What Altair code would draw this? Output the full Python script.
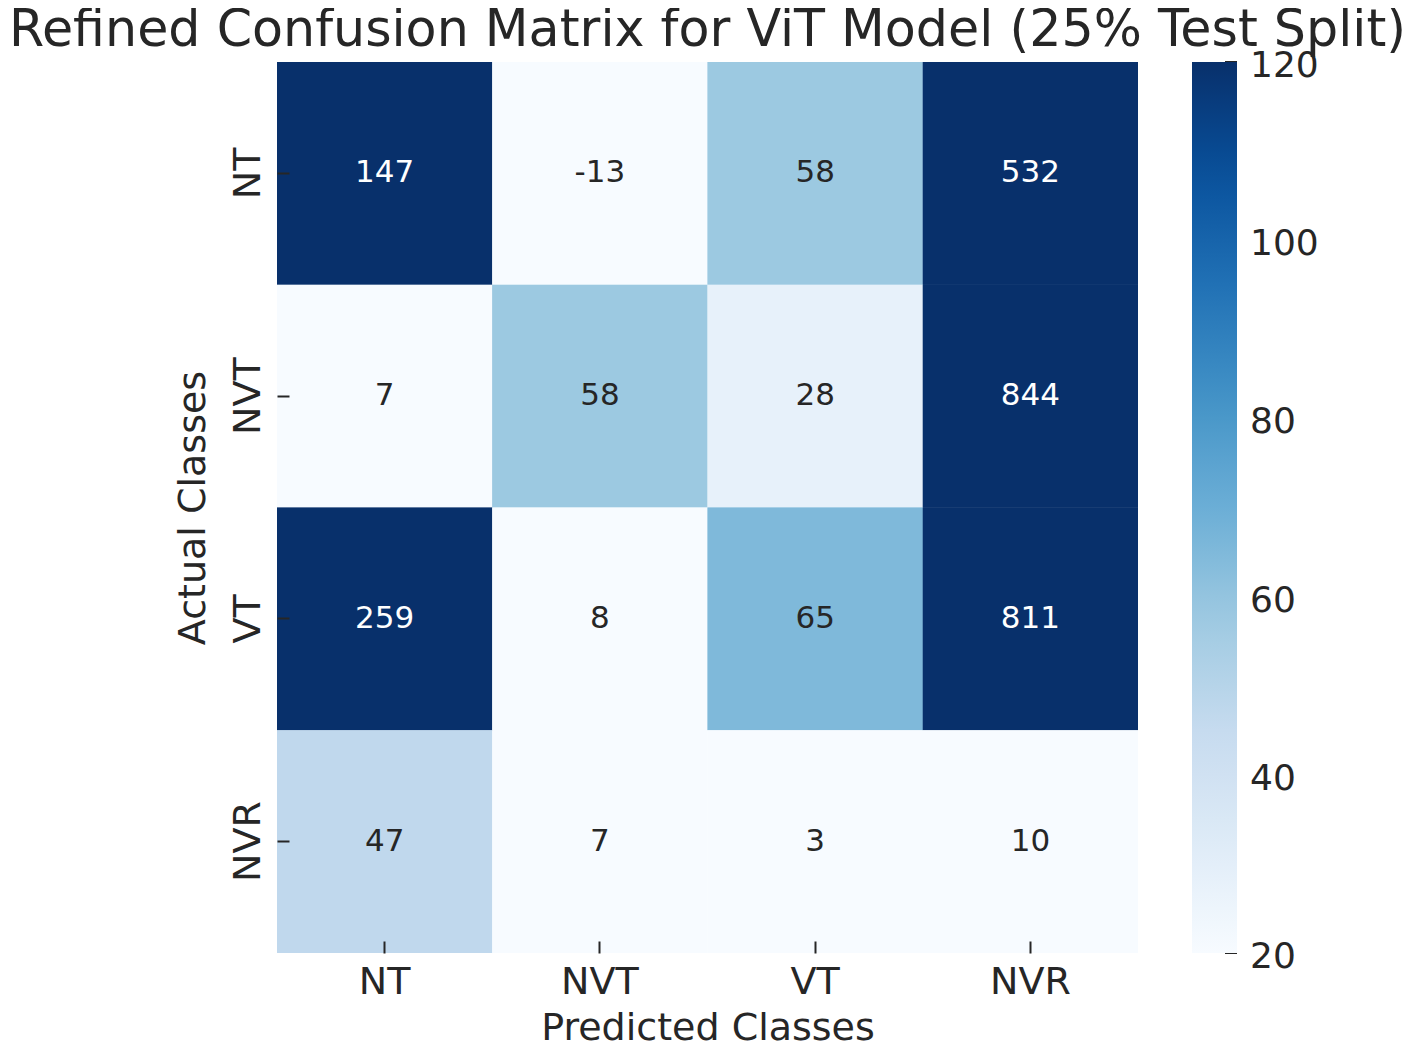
import altair as alt
import pandas as pd

classes = ["NT", "NVT", "VT", "NVR"]
values = [
    [147, -13, 58, 532],
    [7, 58, 28, 844],
    [259, 8, 65, 811],
    [47, 7, 3, 10],
]
cbar_ticks = [20, 40, 60, 80, 100, 120]
blues = ["#f7fbff", "#deebf7", "#c6dbef", "#9ecae1", "#6baed6",
         "#4292c6", "#2171b5", "#08519c", "#08306b"]
vmin, vmax = 20, 120
stops = [vmin + (vmax - vmin) * i / (len(blues) - 1) for i in range(len(blues))]

rows = []
for i, a in enumerate(classes):
    for j, p in enumerate(classes):
        rows.append({"actual": a, "predicted": p, "value": values[i][j],
                     "label": str(values[i][j])})
df = pd.DataFrame(rows)
ticks_df = pd.DataFrame({"t": cbar_ticks, "tl": [str(t) for t in cbar_ticks]})

FONT = "DejaVu Sans"
TXT = "#262626"
W, H = 861, 891

cscale = alt.Scale(domain=stops, range=blues, clamp=True, interpolate="rgb")

xenc = alt.X("predicted:N", sort=classes, title="Predicted Classes",
             scale=alt.Scale(paddingInner=0, paddingOuter=0),
             axis=alt.Axis(labelAngle=0, labelFontSize=38, titleFontSize=38,
                           titleFontWeight="normal", tickSize=12, tickWidth=2,
                           tickColor=TXT, labelColor=TXT, titleColor=TXT,
                           domain=False, offset=-12, zindex=1,
                           labelPadding=10, titlePadding=8))
yenc = alt.Y("actual:N", sort=classes, title="Actual Classes",
             scale=alt.Scale(paddingInner=0, paddingOuter=0),
             axis=alt.Axis(labelAngle=270, labelAlign="center", labelBaseline="bottom",
                           labelFontSize=38, titleFontSize=38,
                           titleFontWeight="normal", tickSize=12, tickWidth=2,
                           tickColor=TXT, labelColor=TXT, titleColor=TXT,
                           domain=False, offset=-12, zindex=1,
                           labelPadding=10, titlePadding=17))

rect = alt.Chart(df).mark_rect(strokeWidth=0).encode(
    x=xenc, y=yenc,
    color=alt.Color("value:Q", scale=cscale,
                    legend=alt.Legend(type="gradient", orient="none", legendX=915, legendY=0,
                                      direction="vertical", title=None,
                                      gradientLength=H, gradientThickness=45,
                                      gradientStrokeWidth=0, values=cbar_ticks,
                                      labelOpacity=0, labelFontSize=1, padding=0)),
)
# second identical pass hides anti-aliasing seams between cells
rect2 = alt.Chart(df).mark_rect(strokeWidth=0).encode(
    x=alt.X("predicted:N", sort=classes),
    y=alt.Y("actual:N", sort=classes),
    color=alt.Color("value:Q", scale=cscale, legend=None),
)
text = alt.Chart(df).mark_text(fontSize=31, baseline="middle", font=FONT).encode(
    x=alt.X("predicted:N", sort=classes),
    y=alt.Y("actual:N", sort=classes),
    text=alt.Text("label:N"),
    color=alt.condition(alt.datum.value >= 100, alt.value("white"), alt.value(TXT)),
)
tyenc = alt.Y("t:Q", scale=alt.Scale(domain=[vmin, vmax], nice=False, zero=False), axis=None)
cbar_tick = alt.Chart(ticks_df).mark_rule(color=TXT, strokeWidth=2).encode(
    y=tyenc, x=alt.value(948), x2=alt.value(960),
)
cbar_lab = alt.Chart(ticks_df).mark_text(
    fontSize=36, font=FONT, align="left", baseline="middle", color=TXT, dy=4
).encode(
    y=tyenc, x=alt.value(973), text=alt.Text("tl:N"),
)

chart = alt.layer(alt.layer(rect, rect2, text), alt.layer(cbar_tick, cbar_lab)).resolve_scale(
    y="independent"
).properties(
    width=W, height=H,
    title=alt.TitleParams("Refined Confusion Matrix for ViT Model (25% Test Split)",
                          fontSize=50.7, font=FONT, fontWeight="normal", color=TXT,
                          anchor="middle", baseline="alphabetic", offset=-31, dy=18),
    autosize=alt.AutoSizeParams(type="none"),
    padding={"left": 269, "top": 54, "right": 271, "bottom": 88},
).configure(font=FONT).configure_view(stroke=None)

chart.save("out.html", embed_options={"renderer": "svg", "actions": False})
